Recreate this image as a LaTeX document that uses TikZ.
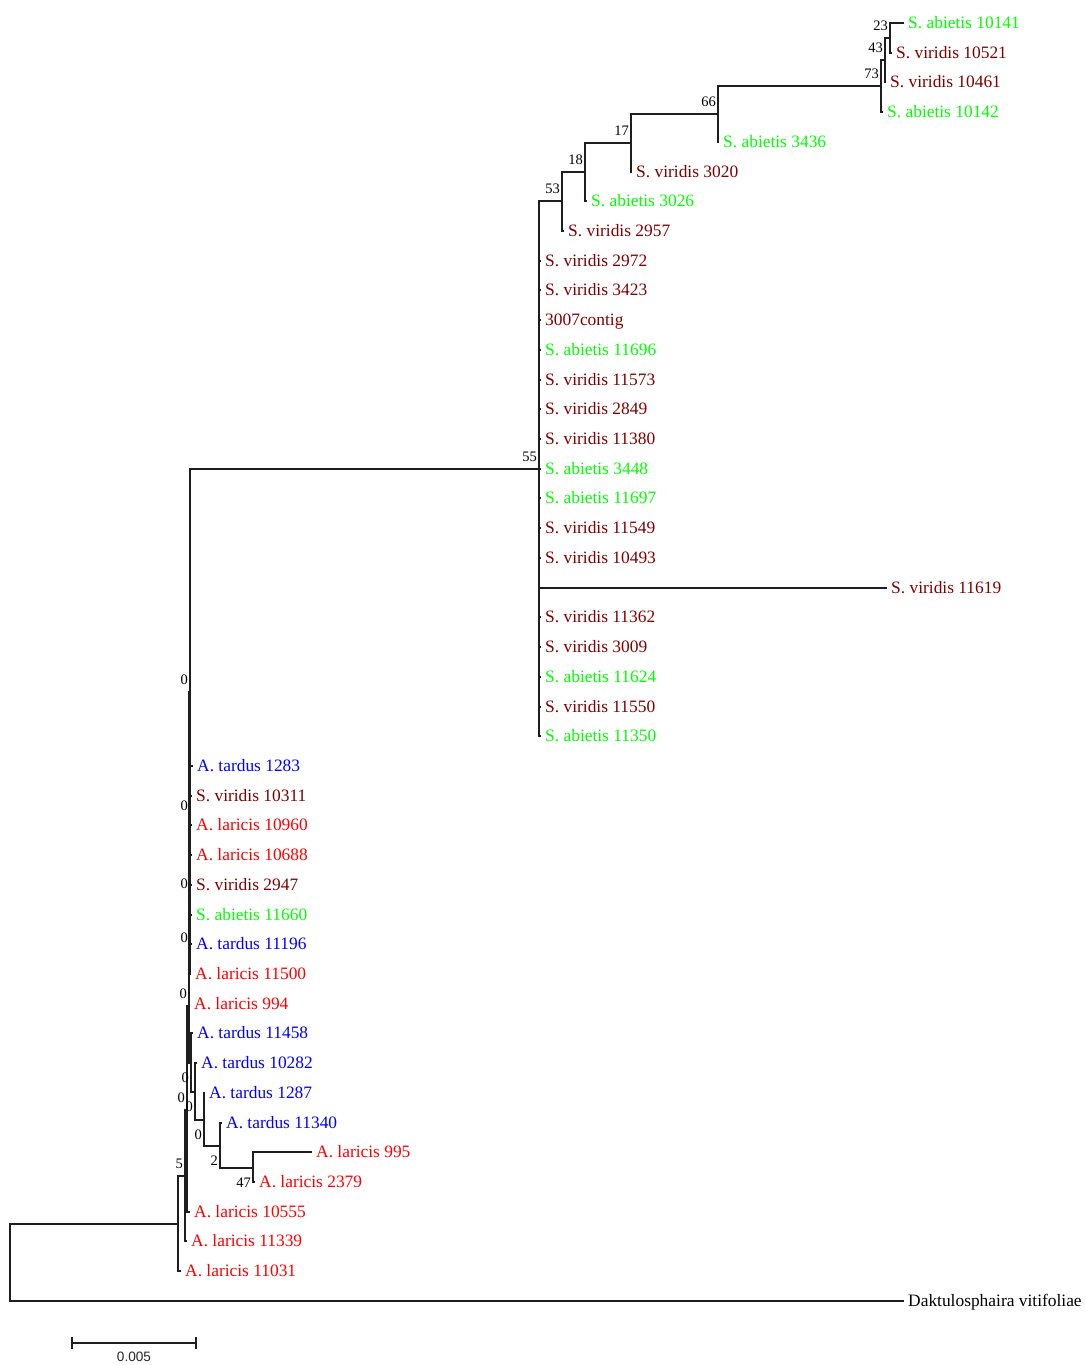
\documentclass[tikz,border=0pt]{standalone}
\usepackage{fontspec}
\setmainfont{Liberation Serif}
\newfontfamily\barfont{Liberation Sans}
\usetikzlibrary{positioning}
\definecolor{abiet}{RGB}{0,255,0}
\definecolor{virid}{RGB}{128,0,0}
\definecolor{laric}{RGB}{255,0,0}
\definecolor{tard}{RGB}{0,0,255}
\definecolor{branchcol}{RGB}{30,30,30}
\tikzset{
  taxon/.style={anchor=west, inner xsep=4pt, inner ysep=0pt, text height=11.5pt, text depth=0pt,
    font=\fontsize{17.4}{20}\selectfont},
  sab/.style={taxon, text=abiet},
  svi/.style={taxon, text=virid},
  lar/.style={taxon, text=laric},
  tar/.style={taxon, text=tard},
  boot/.style={inner sep=0pt, text=black, font=\fontsize{14.5}{16}\selectfont},
  branch/.style={draw=branchcol, line width=1.4pt},
}

\begin{document}
\begin{tikzpicture}[x=1pt,y=-1pt]
\useasboundingbox (0,0) rectangle (1085,1365);

% internal nodes
\coordinate (N23) at (890,38);
\coordinate (N43) at (885,60);
\coordinate (N73) at (881,86);
\coordinate (N66) at (718,114);
\coordinate (N17) at (631,143);
\coordinate (N18) at (585,172);
\coordinate (N53) at (562,201);
\coordinate (N55) at (539,469);
\coordinate (Top0) at (190,692);
\coordinate (B1) at (190,818);
\coordinate (R1) at (190,896);
\coordinate (P1) at (190,950);
\coordinate (Nz) at (189,1006);
\coordinate (N0c) at (191,1063);
\coordinate (N0d) at (195,1092);
\coordinate (N0e) at (204,1120);
\coordinate (N2) at (220,1146);
\coordinate (N47) at (253,1168);
\coordinate (Ny) at (187,1110);
\coordinate (N5) at (185,1176);
\coordinate (IG) at (178,1224);
\coordinate (Root) at (10,1263);

% taxa
\node[sab] (sab10141) at (904,23) {S. abietis 10141};
\node[svi] (svi10521) at (892,53) {S. viridis 10521};
\node[svi] (svi10461) at (886,82) {S. viridis 10461};
\node[sab] (sab10142) at (883,112) {S. abietis 10142};
\node[sab] (sab3436) at (719,142) {S. abietis 3436};
\node[svi] (svi3020) at (632,172) {S. viridis 3020};
\node[sab] (sab3026) at (587,201) {S. abietis 3026};
\node[svi] (svi2957) at (564,231) {S. viridis 2957};
\node[svi] (svi2972) at (541,261) {S. viridis 2972};
\node[svi] (svi3423) at (541,290) {S. viridis 3423};
\node[svi] (svi3007) at (541,320) {3007contig};
\node[sab] (sab11696) at (541,350) {S. abietis 11696};
\node[svi] (svi11573) at (541,380) {S. viridis 11573};
\node[svi] (svi2849) at (541,409) {S. viridis 2849};
\node[svi] (svi11380) at (541,439) {S. viridis 11380};
\node[sab] (sab3448) at (541,469) {S. abietis 3448};
\node[sab] (sab11697) at (541,498) {S. abietis 11697};
\node[svi] (svi11549) at (541,528) {S. viridis 11549};
\node[svi] (svi10493) at (541,558) {S. viridis 10493};
\node[svi] (svi11619) at (887,588) {S. viridis 11619};
\node[svi] (svi11362) at (541,617) {S. viridis 11362};
\node[svi] (svi3009) at (541,647) {S. viridis 3009};
\node[sab] (sab11624) at (541,677) {S. abietis 11624};
\node[svi] (svi11550) at (541,707) {S. viridis 11550};
\node[sab] (sab11350) at (541,736) {S. abietis 11350};
\node[tar] (tar1283) at (193,766) {A. tardus 1283};
\node[svi] (svi10311) at (192,796) {S. viridis 10311};
\node[lar] (lar10960) at (192,825) {A. laricis 10960};
\node[lar] (lar10688) at (192,855) {A. laricis 10688};
\node[svi] (svi2947) at (192,885) {S. viridis 2947};
\node[sab] (sab11660) at (192,915) {S. abietis 11660};
\node[tar] (tar11196) at (192,944) {A. tardus 11196};
\node[lar] (lar11500) at (191,974) {A. laricis 11500};
\node[lar] (lar994) at (190,1004) {A. laricis 994};
\node[tar] (tar11458) at (193,1033) {A. tardus 11458};
\node[tar] (tar10282) at (197,1063) {A. tardus 10282};
\node[tar] (tar1287) at (205,1093) {A. tardus 1287};
\node[tar] (tar11340) at (222,1123) {A. tardus 11340};
\node[lar] (lar995) at (312,1152) {A. laricis 995};
\node[lar] (lar2379) at (255,1182) {A. laricis 2379};
\node[lar] (lar10555) at (190,1212) {A. laricis 10555};
\node[lar] (lar11339) at (187,1241) {A. laricis 11339};
\node[lar] (lar11031) at (181,1271) {A. laricis 11031};
\node[taxon] (dakt) at (904,1301) {Daktulosphaira vitifoliae};

% branches
\draw[branch] (N23) |- (sab10141) (N23) |- (svi10521);
\draw[branch] (N43) |- (N23) (N43) |- (svi10461);
\draw[branch] (N73) |- (N43) (N73) |- (sab10142);
\draw[branch] (N66) |- (N73) (N66) |- (sab3436);
\draw[branch] (N17) |- (N66) (N17) |- (svi3020);
\draw[branch] (N18) |- (N17) (N18) |- (sab3026);
\draw[branch] (N53) |- (N18) (N53) |- (svi2957);
\draw[branch] (N55) |- (N53)
  (N55) |- (svi2972) (N55) |- (svi3423) (N55) |- (svi3007) (N55) |- (sab11696)
  (N55) |- (svi11573) (N55) |- (svi2849) (N55) |- (svi11380) (N55) |- (sab3448)
  (N55) |- (sab11697) (N55) |- (svi11549) (N55) |- (svi10493) (N55) |- (svi11619)
  (N55) |- (svi11362) (N55) |- (svi3009) (N55) |- (sab11624) (N55) |- (svi11550)
  (N55) |- (sab11350);
\draw[branch] (Top0) |- (N55) (Top0) |- (B1) (Top0) |- (R1) (Top0) |- (P1);
\draw[branch] (B1) |- (tar1283) (B1) |- (svi10311) (B1) |- (lar10960) (B1) |- (lar10688);
\draw[branch] (R1) |- (svi2947) (R1) |- (sab11660);
\draw[branch] (P1) |- (tar11196) (P1) |- (lar11500);
\draw[branch] (Nz) |- (Top0) (Nz) |- (lar994) (Nz) |- (N0c);
\draw[branch] (N0c) |- (tar11458) (N0c) |- (N0d);
\draw[branch] (N0d) |- (tar10282) (N0d) |- (N0e);
\draw[branch] (N0e) |- (tar1287) (N0e) |- (N2);
\draw[branch] (N2) |- (tar11340) (N2) |- (N47);
\draw[branch] (N47) |- (lar995) (N47) |- (lar2379);
\draw[branch] (Ny) |- (Nz) (Ny) |- (lar10555);
\draw[branch] (N5) |- (Ny) (N5) |- (lar11339);
\draw[branch] (IG) |- (N5) (IG) |- (lar11031);
\draw[branch] (Root) |- (IG) (Root) |- (dakt);

% bootstrap values
\node[boot, above left=7pt and 2pt of N23] {23};
\node[boot, above left=7pt and 2pt of N43] {43};
\node[boot, above left=7pt and 2pt of N73] {73};
\node[boot, above left=7pt and 2pt of N66] {66};
\node[boot, above left=7pt and 2pt of N17] {17};
\node[boot, above left=7pt and 2pt of N18] {18};
\node[boot, above left=7pt and 2pt of N53] {53};
\node[boot, above left=7pt and 2pt of N55] {55};
\node[boot, above left=7pt and 2pt of Top0] {0};
\node[boot, above left=7pt and 2pt of B1] {0};
\node[boot, above left=7pt and 2pt of R1] {0};
\node[boot, above left=7pt and 2pt of P1] {0};
\node[boot, above left=7pt and 2pt of Nz] {0};
\node[boot, above left=7pt and 2pt of Ny] {0};
\node[boot, above left=7pt and 2pt of N5] {5};
\node[boot, below left=10pt and 2pt of N0c] {0};
\node[boot, below left=10pt and 2pt of N0d] {0};
\node[boot, below left=10pt and 2pt of N0e] {0};
\node[boot, below left=10pt and 2pt of N2] {2};
\node[boot, below left=10pt and 2pt of N47] {47};

% scale bar
\coordinate (barL) at (72,1343);
\coordinate (barR) at (196,1343);
\path (barL) -- (barR) coordinate[midway] (barM);
\draw[branch, line width=1.2pt] (barL) -- (barR);
\draw[branch, line width=1.2pt] ([yshift=6pt]barL) -- ([yshift=-6pt]barL);
\draw[branch, line width=1.2pt] ([yshift=6pt]barR) -- ([yshift=-6pt]barR);
\node[inner sep=0pt, text=black!85, font=\barfont\fontsize{13.6}{15}\selectfont, below=9pt of barM] (barlabel) {0.005};
\end{tikzpicture}
\end{document}
